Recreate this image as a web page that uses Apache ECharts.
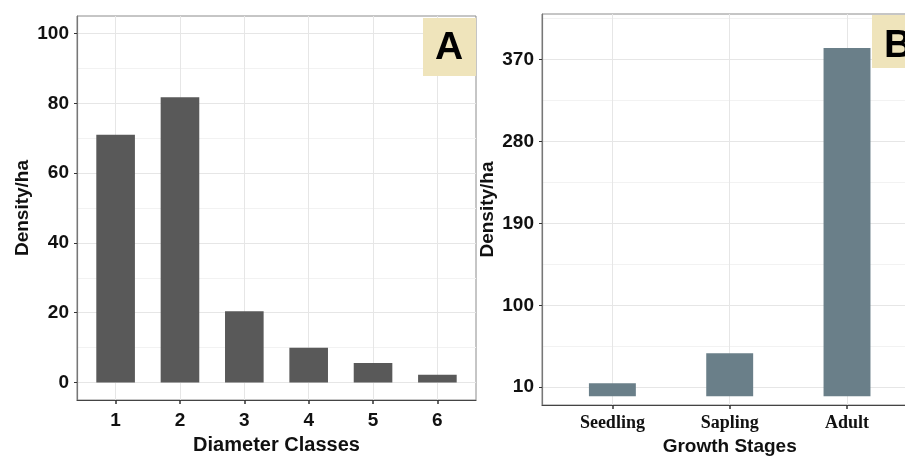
<!DOCTYPE html>
<html>
<head>
<meta charset="utf-8">
<script src="https://cdn.jsdelivr.net/npm/echarts@6/dist/echarts.min.js"></script>
<style>
  html, body { margin: 0; padding: 0; background: #fff; }
  #chart { width: 905px; height: 456px; }
</style>
</head>
<body>
<div id="chart"></div>
<script>
// panel A
const diamClasses = ['1', '2', '3', '4', '5', '6'];
const diamDensity = [71, 81.7, 20.4, 10, 5.6, 2.2];
const diamTicks = [0, 20, 40, 60, 80, 100];
const diamMinor = [10, 30, 50, 70, 90];

// panel B
const stages = ['Seedling', 'Sapling', 'Adult'];
const stageDensity = [14.4, 47.3, 382.7];
const stageTicks = [10, 100, 190, 280, 370];
const stageMinor = [55, 145, 235, 325, 415];

const sans = 'Liberation Sans';
const serif = 'Liberation Serif';
const majorGrid = '#e6e6e6';
const minorGrid = '#f2f2f2';

const chart = echarts.init(document.getElementById('chart'));

const positions = arr => arr.map((_, i) => i + 1);

function xAxisFor(gridIndex, names, labelFont, labelSize, labelMargin, title, titleSize, nameGap) {
  return {
    type: 'value',
    gridIndex: gridIndex,
    position: 'bottom',
    min: 0.4,
    max: names.length + 0.6,
    name: title,
    nameLocation: 'middle',
    nameGap: nameGap,
    nameTextStyle: { fontFamily: sans, fontWeight: 'bold', fontSize: titleSize, color: '#111' },
    axisLine: { show: true, onZero: false, lineStyle: { color: '#444', width: 1.2 } },
    axisTick: { show: true, length: 4, customValues: positions(names), lineStyle: { color: '#333', width: 1.5 } },
    axisLabel: {
      customValues: positions(names),
      margin: labelMargin,
      fontFamily: labelFont,
      fontWeight: 'bold',
      fontSize: labelSize,
      color: '#111',
      formatter: v => names[Math.round(v) - 1]
    },
    splitLine: { show: true, lineStyle: { color: majorGrid, width: 1 } }
  };
}

function yAxisFor(gridIndex, min, max, ticks, labelSize, title, nameGap) {
  return {
    type: 'value',
    gridIndex: gridIndex,
    position: 'left',
    min: min,
    max: max,
    name: title,
    nameLocation: 'middle',
    nameGap: nameGap,
    nameTextStyle: { fontFamily: sans, fontWeight: 'bold', fontSize: 19, color: '#111' },
    axisLine: { show: true, onZero: false, lineStyle: { color: '#777', width: 1.2 } },
    axisTick: { show: true, length: 3, customValues: ticks, lineStyle: { color: '#333' } },
    axisLabel: {
      customValues: ticks,
      margin: 8,
      fontFamily: sans,
      fontWeight: 'bold',
      fontSize: labelSize,
      color: '#111'
    },
    splitLine: { show: true, lineStyle: { color: majorGrid, width: 1 } }
  };
}

function minorAxisFor(gridIndex, min, max, ticks) {
  return {
    type: 'value',
    gridIndex: gridIndex,
    position: 'left',
    min: min,
    max: max,
    axisLine: { show: false, onZero: false },
    axisTick: { show: false, customValues: ticks },
    axisLabel: { show: false, customValues: ticks },
    splitLine: { show: true, lineStyle: { color: minorGrid, width: 1 } }
  };
}

const option = {
  animation: false,
  grid: [
    { left: 77, top: 16, width: 399, height: 384, show: true, borderColor: '#8c8c8c', borderWidth: 1, outerBoundsMode: 'none', containLabel: false },
    { left: 542, top: 14, width: 375.4, height: 391, show: true, borderColor: '#8c8c8c', borderWidth: 1, outerBoundsMode: 'none', containLabel: false }
  ],
  xAxis: [
    xAxisFor(0, diamClasses, sans, 19, 11, 'Diameter Classes', 20, 35),
    xAxisFor(1, stages, serif, 18, 9, 'Growth Stages', 19, 32)
  ],
  yAxis: [
    minorAxisFor(0, -5, 105, diamMinor),
    yAxisFor(0, -5, 105, diamTicks, 19, 'Density/ha', 45),
    minorAxisFor(1, -9.5, 420, stageMinor),
    yAxisFor(1, -9.5, 420, stageTicks, 19, 'Density/ha', 45)
  ],
  series: [
    {
      type: 'bar',
      xAxisIndex: 0,
      yAxisIndex: 1,
      barWidth: '60%',
      itemStyle: { color: '#595959' },
      data: diamDensity.map((v, i) => [i + 1, v])
    },
    {
      type: 'bar',
      xAxisIndex: 1,
      yAxisIndex: 3,
      barWidth: '40%',
      itemStyle: { color: '#6a7f89' },
      data: stageDensity.map((v, i) => [i + 1, v])
    }
  ],
  graphic: [
    { type: 'rect', shape: { x: 423, y: 18, width: 53, height: 58 }, style: { fill: '#efe4bb' }, z: 100 },
    { type: 'text', x: 449, y: 48, style: { text: 'A', fontFamily: sans, fontWeight: 'bold', fontSize: 39, fill: '#000', align: 'center', verticalAlign: 'middle' }, z: 101 },
    { type: 'rect', shape: { x: 872, y: 15, width: 46, height: 53 }, style: { fill: '#efe4bb' }, z: 100 },
    { type: 'text', x: 884, y: 46, style: { text: 'B', fontFamily: sans, fontWeight: 'bold', fontSize: 39, fill: '#000', align: 'left', verticalAlign: 'middle' }, z: 101 }
  ]
};

chart.setOption(option);
</script>
</body>
</html>
